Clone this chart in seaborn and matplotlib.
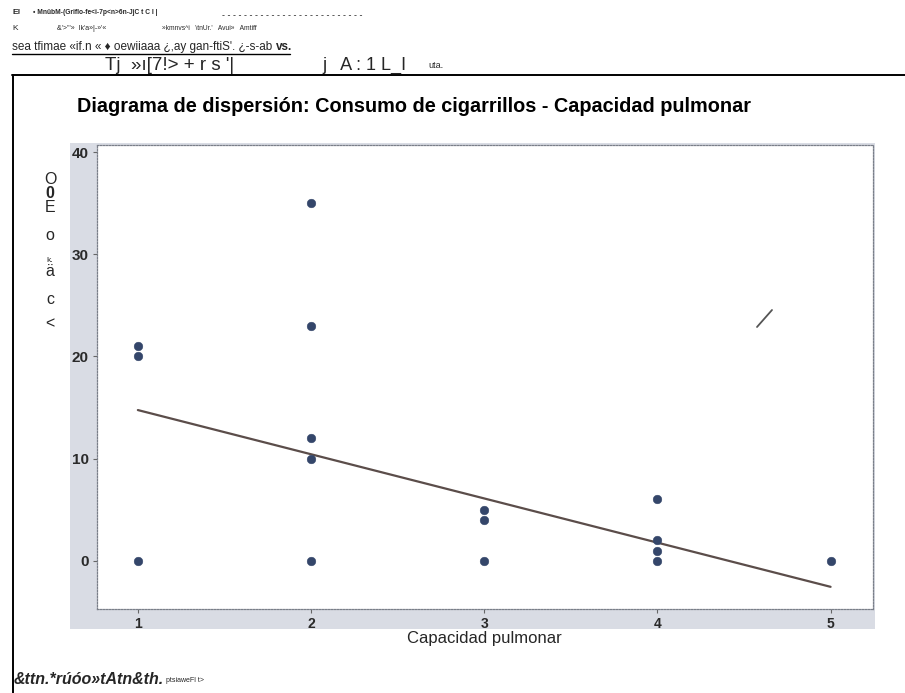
import matplotlib
matplotlib.use("Agg")
import matplotlib.pyplot as plt
from matplotlib.patches import Rectangle
from matplotlib.lines import Line2D
import seaborn as sns
import pandas as pd

# Data: lung capacity vs. cigarette consumption
capacidad = [1, 1, 1, 2, 2, 2, 2, 2, 3, 3, 3, 4, 4, 4, 4, 5]
cigarrillos = [21, 20, 0, 35, 23, 12, 10, 0, 5, 4, 0, 6, 2, 1, 0, 0]
# Fitted trend line end points
ajuste_x = [1, 5]
ajuste_y = [14.75, -2.55]
x_ticks = [1, 2, 3, 4, 5]
y_ticks = [0, 10, 20, 30, 40]

titulo = "Diagrama de dispersión: Consumo de cigarrillos - Capacidad pulmonar"
etiqueta_x = "Capacidad pulmonar"
etiqueta_y = ["O", "0", "E", "o", "k.", "ä", "c", "<"]

sns.set_theme(style="white")
FAM = ["Liberation Sans", "DejaVu Sans"]
plt.rcParams["font.family"] = FAM

W, H = 905, 693
fig = plt.figure(figsize=(W / 100, H / 100), dpi=100)
fig.patch.set_facecolor("white")


def fx(x):
    return x / W


def fy(y):
    return 1 - y / H


def after(txt, s, dx=3, **kw):
    """Place a text right after another text artist."""
    return fig.add_artist(matplotlib.text.Annotation(
        s, xy=(1, 0.5), xycoords=txt, xytext=(dx, 0), textcoords="offset pixels",
        va="center", ha="left", annotation_clip=False, **kw))


# Header block
fig.text(fx(12), fy(13), "E!", fontsize=6, fontweight="bold", va="center")
fig.text(fx(33), fy(13), "• MnübM-(Griflo-fe<i-7p<n>6n-JjC t C I |", fontsize=4.8,
         fontweight="bold", va="center")
fig.text(fx(222), fy(15), "- " * 26, fontsize=6.4, va="center")
fig.text(fx(12), fy(29), "K", fontsize=6, va="center")
fig.text(fx(57), fy(29), "&'>'\"»  Ik'a»|-»'«", fontsize=5, va="center")
fig.text(fx(162), fy(29), "»kmnvs^i   \\tnUr.'   Avui»   Amtiff", fontsize=4.8,
         va="center")
l3 = fig.text(fx(12), fy(47), "sea tfimae «if.n « ♦ oewiiaaa ¿,ay gan-ftiS'. ¿-s-ab",
              fontsize=8.5, va="center")
after(l3, "vs.", dx=4, fontsize=8.5, fontweight="bold")
fig.add_artist(Line2D([fx(12), fx(290)], [fy(54), fy(54)], color="black", lw=1.0))
fig.text(fx(105), fy(65), "Tj  »ı[7!> + r s '|", fontsize=13.5, va="center")
fig.text(fx(322), fy(65), "j   A : 1 L_I", fontsize=13, va="center")
fig.text(fx(428), fy(66), "uta.", fontsize=6.5, va="center")

# Box around the figure content
fig.add_artist(Line2D([fx(12), fx(905)], [fy(75), fy(75)], color="black", lw=1.4))
fig.add_artist(Line2D([fx(13), fx(13)], [fy(75), fy(693)], color="black", lw=1.4))

# Title
fig.text(fx(414), fy(106), titulo, fontsize=14.3, fontweight="bold", ha="center",
         va="center", color="black")

# Grey band behind the plotting area
fig.patches.append(Rectangle((fx(70), fy(629)), (875 - 70) / W, (629 - 143) / H,
                             transform=fig.transFigure, facecolor="#d9dce4",
                             edgecolor="none", zorder=-1))

ax = fig.add_axes([fx(97), fy(609), (873 - 97) / W, (609 - 145) / H])
ax.set_zorder(1)
ax.set_facecolor("white")

df = pd.DataFrame({"capacidad": capacidad, "cigarrillos": cigarrillos})
sns.lineplot(x=ajuste_x, y=ajuste_y, ax=ax, color="#5b4d4a", lw=1.6, zorder=2)
sns.scatterplot(data=df, x="capacidad", y="cigarrillos", ax=ax, color="#34466a",
                s=38, edgecolor="#34466a", linewidth=0.4, zorder=3)

ax.set_xlim(0.764, 5.245)
ax.set_ylim(-4.72, 40.69)
ax.set_xticks(x_ticks)
ax.set_yticks(y_ticks)
ax.set_xticklabels([str(v) for v in x_ticks], fontsize=10, fontweight="bold", color="#2a2a2a")
ax.set_yticklabels([str(v) for v in y_ticks], fontsize=11, fontweight="bold", color="#2a2a2a")
ax.tick_params(axis="y", left=True, length=3, width=0.8, color="#666666", pad=3)
ax.tick_params(axis="x", bottom=True, length=3, width=0.8, color="#666666", pad=3)
ax.set_xlabel("")
ax.set_ylabel("")
for sp in ax.spines.values():
    sp.set_visible(True)
    sp.set_color("#7a7f89")
    sp.set_linewidth(0.9)
    sp.set_linestyle((0, (1.2, 1.2)))

# Axis labels
fig.text(fx(484), fy(638), etiqueta_x, fontsize=12, ha="center", va="center")
y_pos = [180, 193, 207, 235, 260, 272, 299, 324]
for ch, yp in zip(etiqueta_y, y_pos):
    small = ch == "k."
    fig.text(fx(50), fy(yp), ch, fontsize=6 if small else 11.5,
             fontweight="bold" if (ch == "0") else "normal",
             ha="center", va="center")

# Stray pen mark
fig.add_artist(Line2D([fx(757), fx(772)], [fy(327), fy(310)], color="#555555", lw=1.3))

# Footer
foot = fig.text(fx(14), fy(680), "&ttn.*rúóo»tAtn&th.", fontsize=11.5, fontweight="bold",
                style="italic", va="center")
after(foot, "ptsiaweFl t>", dx=2, fontsize=5)

fig.savefig("out.png", dpi=100)
